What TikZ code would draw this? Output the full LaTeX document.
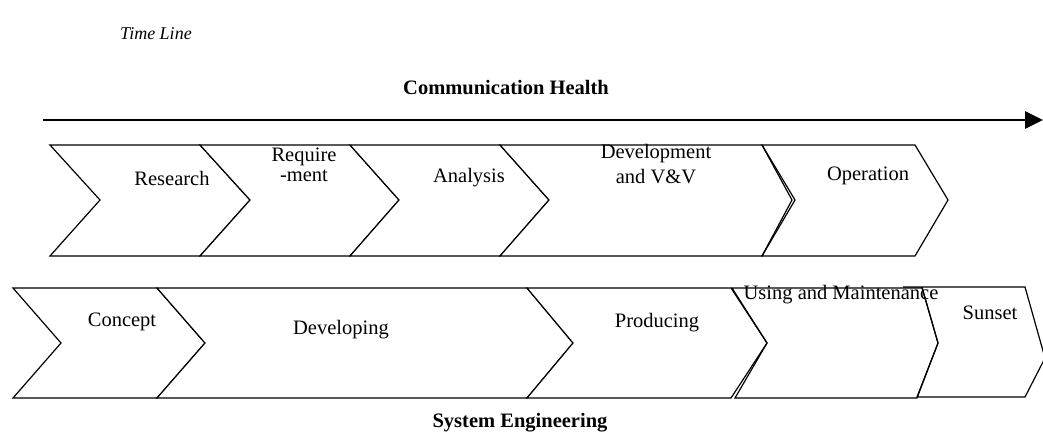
\documentclass[tikz,border=0pt]{standalone}
\usepackage{fontspec}
\setmainfont{Liberation Serif}
\usetikzlibrary{arrows.meta}
\begin{document}
\begin{tikzpicture}[x=1pt,y=-1pt,
  phase/.style={draw=black,line width=1.2pt,line join=miter,fill=white},
  lbl/.style={inner sep=0pt,font=\fontsize{20.5}{20}\selectfont,align=center},
  title/.style={inner sep=0pt,font=\fontsize{20.5}{24}\selectfont\bfseries},
  timeline/.style={line width=2.8pt,-{Triangle[length=18pt,width=17pt]}}]
\useasboundingbox (0,0) rectangle (1043,437);

% time axis
\node[inner sep=0pt,font=\fontsize{18}{20}\selectfont\itshape] (tl) at (156,34) {Time Line};
\coordinate (ts) at (43,120);
\coordinate (te) at (1043,120);
\draw[timeline] (ts) -- (te);
\node[title] (ch) at (506,88) {Communication Health};

% upper row: communication health phases
\draw[phase] (50,145) -- (200,145) -- (250,200) -- (200,256) -- (50,256) -- (100,200) -- cycle;
\draw[phase] (200,145) -- (350,145) -- (399,200) -- (350,256) -- (200,256) -- (250,200) -- cycle;
\draw[phase] (350,145) -- (500,145) -- (549,200) -- (500,256) -- (350,256) -- (399,200) -- cycle;
\draw[phase] (500,145) -- (762,145) -- (792,200) -- (762,256) -- (500,256) -- (549,200) -- cycle;
\draw[phase,fill=none] (762,145) -- (915,145) -- (948,200) -- (915,256) -- (762,256) -- (795,200) -- cycle;

\node[lbl] (research) at (172,178) {Research};
\node[lbl] (req) at (304,165) {Require\\-ment};
\node[lbl] (analysis) at (469,178) {Analysis};
\node[lbl,font=\fontsize{20.5}{25}\selectfont] (devvv) at (656,164) {Development\\and V\&V};
\node[lbl] (operation) at (868,176) {Operation};

% lower row: system engineering phases
\draw[phase] (13,288) -- (157,288) -- (205,343) -- (157,398) -- (13,398) -- (61,343) -- cycle;
\draw[phase] (157,288) -- (527,288) -- (573,343) -- (527,398) -- (157,398) -- (205,343) -- cycle;
\draw[phase] (527,288) -- (731,288) -- (767,343) -- (731,398) -- (527,398) -- (573,343) -- cycle;
\draw[phase,fill=none] (732,288) -- (903,288) -- (922,288) -- (938,343) -- (917,398) -- (735,398) -- (767,343) -- cycle;
\draw[phase,fill=none] (903,287) -- (1025,287) -- (1045,358) -- (1025,397) -- (917,397) -- (938,343) -- (922,287);

\node[lbl] (concept) at (122,322) {Concept};
\node[lbl] (developing) at (341,330) {Developing};
\node[lbl] (producing) at (657,323) {Producing};
\node[lbl] (using) at (841,295) {Using and Maintenance};
\node[lbl] (sunset) at (990,313) {Sunset};

\node[title] (se) at (520,423) {System Engineering};
\end{tikzpicture}
\end{document}
